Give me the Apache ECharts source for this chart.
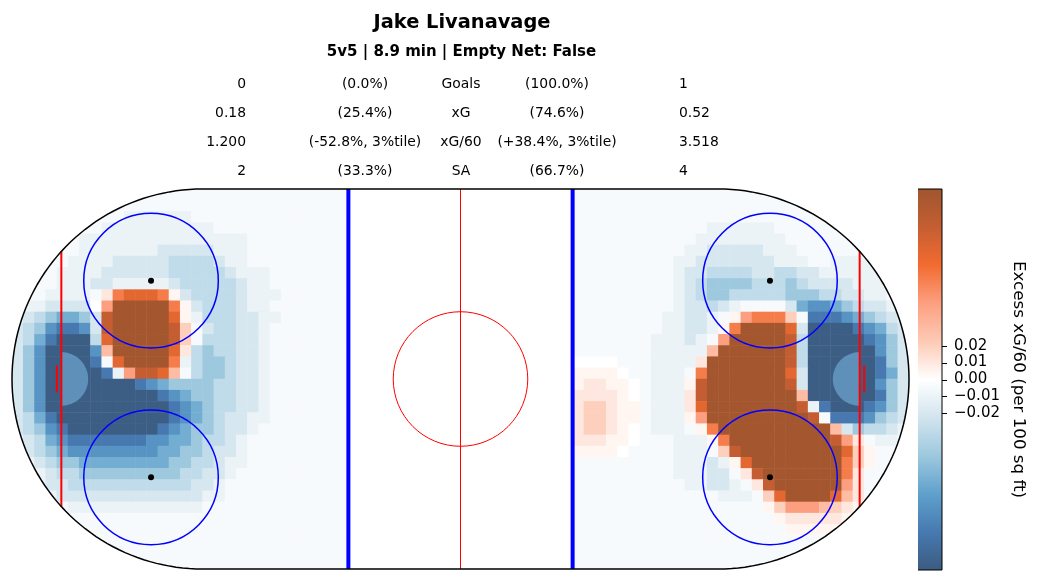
<!DOCTYPE html>
<html>
<head>
<meta charset="utf-8">
<title>Excess xG/60 map</title>
<script src="https://cdn.jsdelivr.net/npm/echarts@6.0.0/dist/echarts.min.js"></script>
<style>
  html, body { margin: 0; padding: 0; background: #fff; }
  #main { width: 1041px; height: 582px; }
</style>
</head>
<body>
<div id="main"></div>
<script>
// header
const playerName = "Jake Livanavage";
const gameState = "5v5 | 8.9 min | Empty Net: False";
const statNames = ["Goals", "xG", "xG/60", "SA"];
const forValues = ["0", "0.18", "1.200", "2"];
const forShares = ["(0.0%)", "(25.4%)", "(-52.8%, 3%tile)", "(33.3%)"];
const againstShares = ["(100.0%)", "(74.6%)", "(+38.4%, 3%tile)", "(66.7%)"];
const againstValues = ["1", "0.52", "3.518", "4"];

// colour scale
const scaleMin = -0.1125;
const scaleMax = 0.1125;
const scaleTicks = [0.02, 0.01, 0, -0.01, -0.02];
const scaleColors = ["#3b5b80", "#4779b0", "#5fa0cc", "#9dc8de", "#d2e4ee", "#ffffff",
                     "#fdcab5", "#fc9f80", "#f26b30", "#c45e32", "#a0552f"];

// excess xG/60, 2.5 ft cells, rows from the top boards down
// 0 = none, 1..9 = above (levelValues), a..i = below (minus levelValues)
const levelValues = [0.004, 0.01, 0.02, 0.03, 0.045, 0.06, 0.075, 0.09, 0.11];

// left zone, x -100 .. -25
const defZoneRows = [
  "aaaaaaaaaaaaaaaaaaaaaaaaaaaaaa",
  "aaaaaaaaaaaaaaaaaaaaaaaaaaaaaa",
  "aaaaaaaaaabbbbbbaaaaaaaaaaaaaa",
  "aaaaaaaabbbbbbbbbbaaaaaaaaaaaa",
  "aaaaaabbbbbbbbbbbbbbbaaaaaaaaa",
  "aaaaaabbbbbbbcccccbbbaaaaaaaaa",
  "aaaaabbbbcccccddddcbbaaaaaaaaa",
  "aaaabbbbccccccdddddcbbbaaaaaaa",
  "aaaabbbccbbbbbcdddddcbbaaaaaaa",
  "aaabbbba2677761cddddcbbbaaaaaa",
  "abbcccc059999961cdddcbbaaaaaaa",
  "bcdeffec89999971bdddccbbaaaaaa",
  "cdeghhgc89999983acddccbaaaaaaa",
  "cdfhiiid79999983adddccbaaaaaaa",
  "cegiiiig49999972deddccbaaaaaaa",
  "cegiiiiha799996bdeedccbaaaaaaa",
  "cegiiiiihb58874adeedccbaaaaaaa",
  "cegiiiiiiiihgfeeeeddccbaaaaaaa",
  "cegiiiiiiiiiihgfeeddccbaaaaaaa",
  "cegiiiiiiiiiiihgfeddccbaaaaaaa",
  "cdfhiiiiiiiiiihgfedccbbaaaaaaa",
  "cdeghiiiiiiiihgfeedccbaaaaaaaa",
  "bcdfghhhhhhhggffeddcbaaaaaaaaa",
  "bcdefggggggggffeedccbaaaaaaaaa",
  "bbcdeeffffffffeeddcbbaaaaaaaaa",
  "bbbcddeeeeeeeeeddccbaaaaaaaaaa",
  "bbbccdddddddddddccbaaaaaaaaaaa",
  "bbbbcccccccccccccbbaaaaaaaaaaa",
  "aaaaabbbbbbbbbbbbaaaaaaaaaaaaa",
  "aaaaaaaaaaaaaaaaaaaaaaaaaaaaaa",
  "aaaaaaaaaaaaaaaaaaaaaaaaaaaaaa",
  "aaaaaaaaaaaaaaaaaaaaaaaaaaaaaa",
  "aaaaaaaaaaaaaaaaaaaaaaaaaaaaaa",
  "aaaaaaaaaaaaaaaaaaaaaaaaaaaaaa"
];

// right zone, x 25 .. 100
const offZoneRows = [
  "aaaaaaaaaaaaaaaaaaaaaaaaaaaaaa",
  "aaaaaaaaaaaaaaaaaaaaaaaaaaaaaa",
  "aaaaaaaaaaaaaaaaaaaaaaaaaaaaaa",
  "aaaaaaaaaaaabbbbbbaaaaaaaaaaaa",
  "aaaaaaaaaaabbbbbbbbaaaaaaaaaaa",
  "aaaaaaaaaabbcccccbbbaaaaaaaaaa",
  "aaaaaaaaabbcccccccbbbaabbbbbaa",
  "aaaaaaaaabccddddccddccbbbbbbbb",
  "aaaaaaaaabcdeeeedddedccccbbbaa",
  "aaaaaaaaabcdeedddddeeeddccbbaa",
  "aaaaaaaaabccdcbaaaacfggfedccbb",
  "aaaaaaaabbccba156663ahhhgfedcb",
  "aaaaaaaabbccb1699997ciiiihgfdc",
  "aaaaaaabbbcba5999998diiiiihgec",
  "aaaaaaabbbbb49999998diiiiiigec",
  "0000aaabbbb299999998diiiiiihec",
  "11110aabbba699999997ciiiiiihfc",
  "122110abbb1899999998ciiiiiigec",
  "222210abbb28999999994iiiiiihec",
  "233211abbb27999999998bhiiihgec",
  "233211abbb159999999998ahhhgedc",
  "233210abbba1699999999994ceddcb",
  "222110aaabbb16999999999852abba",
  "11110aaaabbba38999999999731aaa",
  "aaaaaaaaabbbcb1799999999631aaa",
  "aaaaaaaaabbbcca28999999962aaaa",
  "aaaaaaaaaabbccba2899999952aaaa",
  "aaaaaaaaaaaaabbba379999742aaaa",
  "aaaaaaaaaaaaaaaaa135554321aaaa",
  "aaaaaaaaaaaaaaaaaa1222221aaaaa",
  "aaaaaaaaaaaaaaaaaaa11111aaaaaa",
  "aaaaaaaaaaaaaaaaaaaaaaaaaaaaaa",
  "aaaaaaaaaaaaaaaaaaaaaaaaaaaaaa",
  "aaaaaaaaaaaaaaaaaaaaaaaaaaaaaa"
];

const FONT = "DejaVu Sans";

// code -> value
const codeValue = { "0": 0 };
"123456789".split("").forEach((c, k) => { codeValue[c] = levelValues[k]; });
"abcdefghi".split("").forEach((c, k) => { codeValue[c] = -levelValues[k]; });

const cells = [];
defZoneRows.forEach((row, j) => {
  for (let i = 0; i < 30; i++) cells.push([i, j, codeValue[row[i] || "0"]]);
});
offZoneRows.forEach((row, j) => {
  for (let i = 0; i < 30; i++) cells.push([50 + i, j, codeValue[row[i] || "0"]]);
});

const xCats = Array.from({ length: 80 }, (_, i) => i);
const yCats = Array.from({ length: 34 }, (_, j) => j);

// rink drawing (200 x 85 ft, round ends)
function renderRink(params, api) {
  const P = (x, y) => api.coord([x, y]);
  const ft = api.size([1, 1])[0];
  const R = 42.5;
  const arc = (cx, a0, a1) => {
    const pts = [];
    for (let k = 0; k <= 90; k++) {
      const t = a0 + (a1 - a0) * k / 90;
      pts.push(P(cx + R * Math.cos(t), R * Math.sin(t)));
    }
    return pts;
  };
  const leftArc = arc(-57.5, Math.PI / 2, 3 * Math.PI / 2);
  const rightArc = arc(57.5, -Math.PI / 2, Math.PI / 2);
  const line = (x1, y1, x2, y2, color, w) => {
    const a = P(x1, y1), b = P(x2, y2);
    return { type: "line", shape: { x1: a[0], y1: a[1], x2: b[0], y2: b[1] },
             style: { stroke: color, lineWidth: w } };
  };
  const ring = (x, y, r, color, w) => {
    const c = P(x, y);
    return { type: "circle", shape: { cx: c[0], cy: c[1], r: r * ft },
             style: { fill: "none", stroke: color, lineWidth: w } };
  };
  const els = [];
  // white outside the round ends
  els.push({ type: "polygon",
    shape: { points: leftArc.concat([P(-57.5, -44), P(-102, -44), P(-102, 44), P(-57.5, 44)]) },
    style: { fill: "#fff" } });
  els.push({ type: "polygon",
    shape: { points: rightArc.concat([P(57.5, 44), P(102, 44), P(102, -44), P(57.5, -44)]) },
    style: { fill: "#fff" } });
  // creases
  const cl = P(-89, 0), cr = P(89, 0);
  els.push({ type: "sector", shape: { cx: cl[0], cy: cl[1], r: 6 * ft, startAngle: -Math.PI / 2, endAngle: Math.PI / 2 },
             style: { fill: "rgba(135,206,250,0.45)" } });
  els.push({ type: "sector", shape: { cx: cr[0], cy: cr[1], r: 6 * ft, startAngle: Math.PI / 2, endAngle: 3 * Math.PI / 2 },
             style: { fill: "rgba(135,206,250,0.45)" } });
  // lines
  els.push(line(-89, -28.53, -89, 28.53, "#ff0000", 2));
  els.push(line(89, -28.53, 89, 28.53, "#ff0000", 2));
  els.push(line(-90, -3, -90, 3, "#ff0000", 2));
  els.push(line(90, -3, 90, 3, "#ff0000", 2));
  els.push(line(-25, -42.5, -25, 42.5, "#0000ff", 4));
  els.push(line(25, -42.5, 25, 42.5, "#0000ff", 4));
  els.push(line(0, -42.5, 0, 42.5, "#ff0000", 1));
  els.push(ring(0, 0, 15, "#ff0000", 1));
  [[-69, 22], [-69, -22], [69, 22], [69, -22]].forEach(([x, y]) => {
    els.push(ring(x, y, 15, "#0000ff", 1.5));
    const c = P(x, y);
    els.push({ type: "circle", shape: { cx: c[0], cy: c[1], r: 3 }, style: { fill: "#000" } });
  });
  // boards
  els.push({ type: "polygon", shape: { points: leftArc.concat(rightArc) },
             style: { fill: "none", stroke: "#000", lineWidth: 1.5 } });
  return { type: "group", children: els };
}

function renderColorbar(params, api) {
  const a = api.coord([0, scaleMax]), b = api.coord([1, scaleMin]);
  const stops = scaleColors.slice().reverse().map((c, k) => ({ offset: k / (scaleColors.length - 1), color: c }));
  const els = [{ type: "rect", shape: { x: a[0], y: a[1], width: b[0] - a[0], height: b[1] - a[1] },
                 style: { fill: new echarts.graphic.LinearGradient(0, 0, 0, 1, stops), stroke: "#000", lineWidth: 1 } }];
  scaleTicks.forEach((v) => {
    const p = api.coord([1, v]);
    els.push({ type: "line", shape: { x1: p[0], y1: Math.round(p[1]) + 0.5, x2: p[0] + 5, y2: Math.round(p[1]) + 0.5 },
               style: { stroke: "#000", lineWidth: 1 } });
  });
  return { type: "group", children: els };
}

// header text
const header = [];
const txt = (x, y, text, size, weight, align) => ({
  type: "text", x: x, y: y, silent: true,
  style: { text: text, fontSize: size, fontWeight: weight, fontFamily: FONT, fill: "#000",
           align: align, verticalAlign: "middle" }
});
header.push(txt(462, 22.5, playerName, 19.4, "bold", "center"));
header.push(txt(461.5, 52, gameState, 15, "bold", "center"));
const rowY = [84, 113, 142, 171];
statNames.forEach((name, k) => {
  header.push(txt(246, rowY[k], forValues[k], 13.9, "normal", "right"));
  header.push(txt(365, rowY[k], forShares[k], 13.9, "normal", "center"));
  header.push(txt(461, rowY[k], name, 13.9, "normal", "center"));
  header.push(txt(557, rowY[k], againstShares[k], 13.9, "normal", "center"));
  header.push(txt(679, rowY[k], againstValues[k], 13.9, "normal", "left"));
});

const chart = echarts.init(document.getElementById("main"), null, { renderer: "canvas" });
chart.setOption({
  animation: false,
  backgroundColor: "#fff",
  textStyle: { fontFamily: FONT },
  graphic: header,
  grid: [
    { left: 12, top: 189, width: 897, height: 380 },
    { left: 12, top: 189, width: 897, height: 380 },
    { left: 915, top: 189, width: 27, height: 381 }
  ],
  xAxis: [
    { type: "category", gridIndex: 0, data: xCats, show: false },
    { type: "value", gridIndex: 1, min: -100, max: 100, show: false },
    { type: "value", gridIndex: 2, min: 0, max: 1, show: false }
  ],
  yAxis: [
    { type: "category", gridIndex: 0, data: yCats, inverse: true, show: false },
    { type: "value", gridIndex: 1, min: -42.5, max: 42.5, show: false },
    {
      type: "value", gridIndex: 2, min: scaleMin, max: scaleMax, position: "right",
      axisLine: { show: false },
      splitLine: { show: false },
      axisTick: { show: false },
      axisLabel: {
        customValues: scaleTicks, margin: 12, fontSize: 15, color: "#000", fontFamily: FONT,
        formatter: (v) => (v < 0 ? "\u2212" : "") + Math.abs(v).toFixed(2)
      },
      name: "Excess xG/60 (per 100 sq ft)",
      nameLocation: "middle", nameRotate: -90, nameGap: 68,
      nameTextStyle: { fontSize: 16.7, color: "#000", fontFamily: FONT }
    }
  ],
  visualMap: {
    type: "continuous", show: false, seriesIndex: 0, dimension: 2,
    min: scaleMin, max: scaleMax,
    inRange: { color: scaleColors }
  },
  series: [
    {
      type: "heatmap", xAxisIndex: 0, yAxisIndex: 0, data: cells,
      itemStyle: { borderWidth: 0 }, emphasis: { disabled: true }, silent: true, progressive: 0
    },
    {
      type: "custom", xAxisIndex: 1, yAxisIndex: 1, data: [[0, 0]], z: 5, silent: true,
      renderItem: renderRink
    },
    {
      type: "custom", xAxisIndex: 2, yAxisIndex: 2, data: [[0, 0]], silent: true,
      renderItem: renderColorbar
    }
  ]
});
</script>
</body>
</html>
